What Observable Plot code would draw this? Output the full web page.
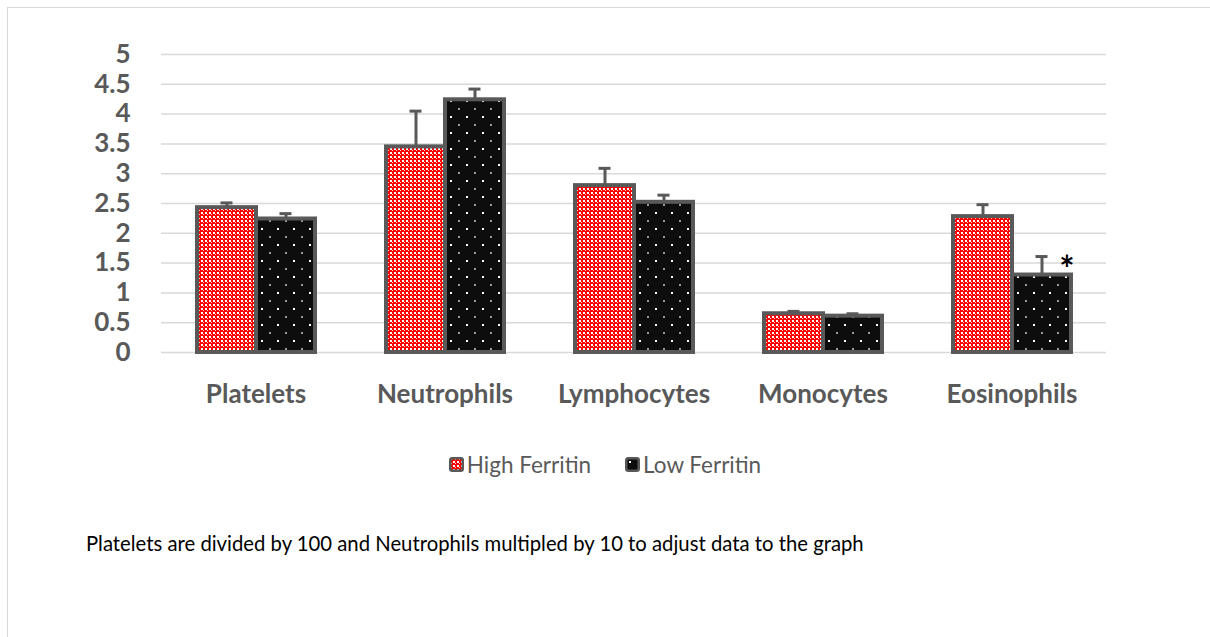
<!DOCTYPE html>
<html>
<head>
<meta charset="utf-8">
<script src="https://cdn.jsdelivr.net/npm/d3@7"></script>
<script src="https://cdn.jsdelivr.net/npm/@observablehq/plot@0.6"></script>
<style>
  html, body { margin: 0; padding: 0; background: #fff; }
  body { width: 1210px; height: 637px; position: relative; overflow: hidden; font-family: Lato, "Liberation Sans", sans-serif; }
  #frame { position: absolute; left: 7px; top: 7px; width: 1300px; height: 700px; border-top: 1.5px solid #d9d9d9; border-left: 1.5px solid #d9d9d9; }
  #chart { position: absolute; left: 0; top: 0; }
  #legend { position: absolute; left: 0; top: 450px; width: 1210px; text-align: center; font-size: 22.5px; color: #595959; white-space: nowrap; }
  #legend .item { display: inline-flex; align-items: center; margin: 0 17px; }
  #legend svg { margin-right: 3px; }
  #caption { position: absolute; left: 86px; top: 531px; font-size: 20.3px; color: #000; white-space: nowrap; }
</style>
</head>
<body>
<svg width="0" height="0" style="position:absolute">
  <defs>
    <pattern id="highPat" patternUnits="userSpaceOnUse" width="4" height="4">
      <rect x="0" y="0" width="4" height="4" fill="#ff0000"></rect>
      <rect x="0" y="0" width="2" height="2" fill="#ffffff"></rect>
      <rect x="2" y="2" width="1" height="1" fill="#ffd0d0"></rect>
    </pattern>
    <pattern id="lowPat" patternUnits="userSpaceOnUse" width="16" height="16">
      <rect x="0" y="0" width="16" height="16" fill="#0d0d0d"></rect>
      <rect x="4" y="4" width="2" height="2" fill="#ffffff"></rect>
      <rect x="12" y="12" width="2" height="2" fill="#9a9a9a"></rect>
    </pattern>
  </defs>
</svg>
<div id="frame"></div>
<div id="chart"></div>
<div id="legend"></div>
<div id="caption"></div>
<script>
// ---- data ----
const categories = ["Platelets", "Neutrophils", "Lymphocytes", "Monocytes", "Eosinophils"];
const seriesNames = ["High Ferritin", "Low Ferritin"];
const highValues = [2.43, 3.45, 2.80, 0.65, 2.28];
const highErrors = [0.08, 0.60, 0.29, 0.04, 0.20];
const lowValues = [2.24, 4.24, 2.52, 0.61, 1.30];
const lowErrors = [0.09, 0.18, 0.12, 0.04, 0.31];
const yTicks = [0, 0.5, 1, 1.5, 2, 2.5, 3, 3.5, 4, 4.5, 5];
const significance = [{category: "Eosinophils", series: "Low Ferritin", label: "*"}];
const captionText = "Platelets are divided by 100 and Neutrophils multipled by 10 to adjust data to the graph";

// ---- table ----
const rows = categories.flatMap((c, i) => [
  {category: c, series: seriesNames[0], value: highValues[i], err: highErrors[i]},
  {category: c, series: seriesNames[1], value: lowValues[i], err: lowErrors[i]}
]);
const sigRows = significance.map(s => {
  const r = rows.find(d => d.category === s.category && d.series === s.series);
  return {...s, top: r.value + r.err};
});

const grey = "#595959";
const fills = ["url(#highPat)", "url(#lowPat)"];

const chart = Plot.plot({
  width: 1210,
  height: 420,
  marginLeft: 160,
  marginRight: 104,
  marginTop: 54,
  marginBottom: 68,
  style: {fontFamily: "Lato, 'Liberation Sans', sans-serif", color: grey, background: "transparent", overflow: "visible"},
  fx: {domain: categories, padding: 0, label: null},
  x: {domain: seriesNames, paddingInner: 0, paddingOuter: 0.588, axis: null},
  y: {domain: [0, 5], label: null},
  color: {domain: seriesNames, range: fills},
  marks: [
    Plot.gridY(yTicks, {stroke: "#d9d9d9", strokeOpacity: 1, strokeWidth: 1.5}),
    Plot.axisY(yTicks, {tickSize: 0, tickPadding: 31, tickFormat: d => String(d), fontSize: 26, fontWeight: "bold", label: null}),
    Plot.axisFx({anchor: "bottom", tickSize: 0, tickPadding: 32, fontSize: 26, fontWeight: "bold", label: null}),
    Plot.barY(rows, {fx: "category", x: "series", y: "value", fill: "series", stroke: grey, strokeWidth: 4}),
    Plot.ruleX(rows, {fx: "category", x: "series", y1: "value", y2: d => d.value + d.err, stroke: grey, strokeWidth: 3}),
    Plot.tickY(rows, {fx: "category", x: "series", y: d => d.value + d.err, stroke: grey, strokeWidth: 3, insetLeft: 23.5, insetRight: 23.5}),
    Plot.text(sigRows, {fx: "category", x: "series", y: "top", text: "label", fill: "#000", fontSize: 36, fontWeight: "bold", dx: 25, dy: 14})
  ]
});
document.getElementById("chart").appendChild(chart);

// ---- legend ----
const legend = d3.select("#legend");
seriesNames.forEach((name, i) => {
  const item = legend.append("span").attr("class", "item");
  const sw = item.append("svg").attr("width", 15).attr("height", 15);
  sw.append("rect").attr("x", 1.25).attr("y", 1.25).attr("width", 12.5).attr("height", 12.5).attr("rx", 2)
    .attr("fill", fills[i]).attr("stroke", grey).attr("stroke-width", 2.5);
  item.append("span").text(name);
});

document.getElementById("caption").textContent = captionText;
</script>
</body>
</html>
